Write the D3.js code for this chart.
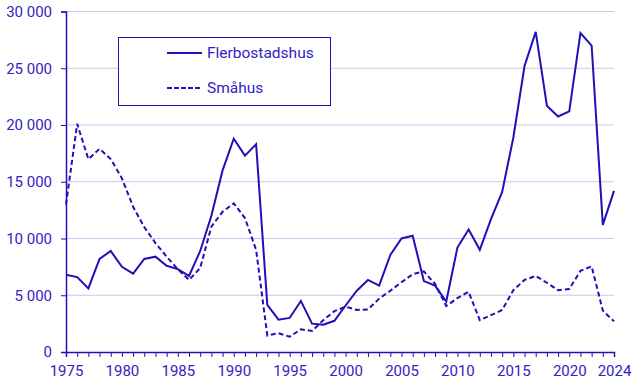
<!DOCTYPE html>
<html>
<head>
<meta charset="utf-8">
<script src="https://cdn.jsdelivr.net/npm/d3@7"></script>
<style>
  html, body { margin: 0; padding: 0; background: #fff; }
  svg { display: block; font-family: Roboto, "Noto Sans", sans-serif; }
</style>
</head>
<body>
<svg id="chart" width="640" height="384"></svg>
<script>
const years = d3.range(1975, 2025);
const flerbostadshus = [
  6800, 6600, 5600, 8200, 8900, 7500, 6900, 8200, 8400, 7600,
  7300, 6700, 8900, 12000, 16000, 18800, 17300, 18300, 4150, 2850,
  3000, 4500, 2500, 2400, 2750, 4100, 5400, 6350, 5850, 8550,
  10000, 10250, 6250, 5850, 4450, 9200, 10800, 9000, 11700, 14100,
  18900, 25200, 28200, 21700, 20750, 21200, 28100, 27000, 11200, 14200
];
const smahus = [
  13000, 20100, 17000, 17900, 17000, 15300, 12800, 11000, 9600, 8400,
  7300, 6350, 7400, 11050, 12350, 13100, 11800, 9000, 1450, 1650,
  1350, 2000, 1850, 2800, 3600, 4000, 3700, 3750, 4700, 5400,
  6150, 6850, 7100, 6000, 4050, 4750, 5300, 2800, 3250, 3700,
  5450, 6350, 6700, 6100, 5450, 5550, 7150, 7550, 3650, 2700
];
const seriesNames = ["Flerbostadshus", "Småhus"];
const yTicks = [0, 5000, 10000, 15000, 20000, 25000, 30000];
const xTickLabels = [1975, 1980, 1985, 1990, 1995, 2000, 2005, 2010, 2015, 2020, 2024];

const lineColor = "#2010b8";
const textColor = "#3322c4";
const gridColor = "#c9c6f0";

const svg = d3.select("#chart");
const x = d3.scaleLinear().domain([1975, 2024]).range([66, 614]);
const y = d3.scaleLinear().domain([0, 30000]).range([352, 11.5]);

const fmt = v => d3.format(",")(v).replace(/,/g, " ");

// grid
svg.append("g").selectAll("line").data(yTicks.filter(d => d > 0)).join("line")
  .attr("x1", 66).attr("x2", 614)
  .attr("y1", d => y(d)).attr("y2", d => y(d))
  .attr("stroke", gridColor).attr("stroke-width", 1);

// y axis
const yAxis = svg.append("g").attr("transform", "translate(66,0)")
  .call(d3.axisLeft(y).tickValues(yTicks).tickFormat(fmt).tickSize(5).tickPadding(9));
yAxis.select(".domain").attr("stroke", lineColor).attr("stroke-width", 1.5);
yAxis.selectAll(".tick line").attr("stroke", lineColor);
yAxis.selectAll("text").attr("fill", textColor).attr("font-size", 15)
  .attr("font-family", "Roboto, sans-serif");

// x axis
const xAxis = svg.append("g").attr("transform", "translate(0,352)")
  .call(d3.axisBottom(x).tickValues(years).tickFormat(d => xTickLabels.includes(d) ? d : "")
    .tickSize(5).tickPadding(8));
xAxis.select(".domain").attr("stroke", lineColor).attr("stroke-width", 1.5);
xAxis.selectAll(".tick line").attr("stroke", lineColor);
xAxis.selectAll("text").attr("fill", textColor).attr("font-size", 15)
  .attr("font-family", "Roboto, sans-serif");

const line = d3.line().x((d, i) => x(years[i])).y(d => y(d));

svg.append("path").datum(flerbostadshus)
  .attr("d", line).attr("fill", "none")
  .attr("stroke", lineColor).attr("stroke-width", 2);
svg.append("path").datum(smahus)
  .attr("d", line).attr("fill", "none")
  .attr("stroke", lineColor).attr("stroke-width", 2)
  .attr("stroke-dasharray", "5,3");

// legend
const lg = svg.append("g");
lg.append("rect").attr("x", 118.5).attr("y", 37.5).attr("width", 212).attr("height", 68)
  .attr("fill", "#fff").attr("stroke", lineColor).attr("stroke-width", 1);
seriesNames.forEach((name, i) => {
  const cy = 53 + i * 35;
  lg.append("line").attr("x1", 167).attr("x2", 202).attr("y1", cy).attr("y2", cy)
    .attr("stroke", lineColor).attr("stroke-width", 2)
    .attr("stroke-dasharray", i === 1 ? "5,2" : null);
  lg.append("text").attr("x", 207).attr("y", cy).attr("dy", "0.35em")
    .attr("fill", textColor).attr("font-size", 15.5)
    .attr("font-family", "Roboto, sans-serif").text(name);
});
</script>
</body>
</html>
